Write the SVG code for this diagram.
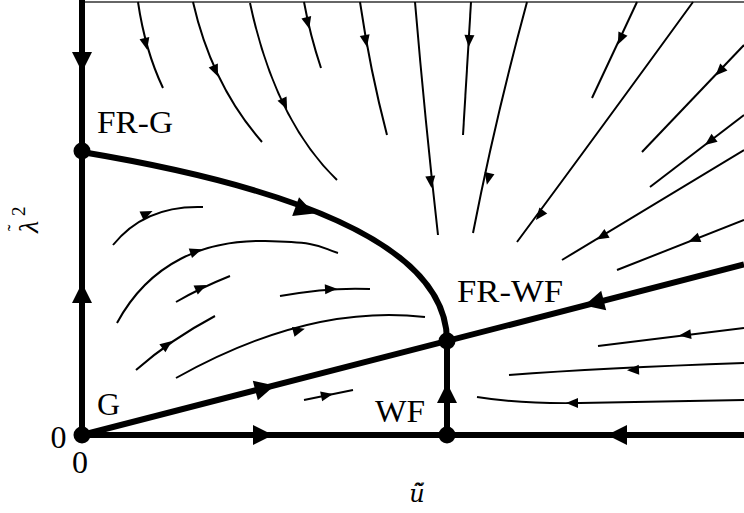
<svg xmlns="http://www.w3.org/2000/svg" xmlns:xlink="http://www.w3.org/1999/xlink" width="744" height="513" viewBox="0 0 744 513">
<style>
.heavy{fill:none;stroke:#000;stroke-width:6;stroke-linecap:butt}
.thin{fill:none;stroke:#000;stroke-width:2}
.lbl{font-family:"Liberation Serif","Times New Roman",serif;font-size:32px;fill:#000}
.it{font-family:"Liberation Serif","Times New Roman",serif;font-style:italic;fill:#000}
.dj{font-family:"DejaVu Serif",serif;font-style:italic;fill:#000}
.up{font-style:normal}
.dot{fill:#000}
</style>
<defs>
<path id="sa" d="M5,0 L-7,-5 L-7,5 Z" fill="#000"/>
<path id="ba" d="M10,0 L-10,-10 L-10,10 Z" fill="#000"/>
</defs>
<rect width="744" height="513" fill="#fff"/>
<line x1="82" y1="2" x2="744" y2="2" stroke="#333" stroke-width="1.5"/>
<g id="connectors">
<line class="heavy" x1="82" y1="0" x2="82" y2="435"/>
<line class="heavy" x1="82" y1="435" x2="744" y2="435"/>
<line class="heavy" x1="82" y1="435" x2="744" y2="264.5"/>
<line class="heavy" x1="447" y1="341" x2="447" y2="435"/>
<path class="heavy" d="M82,152 C310,190 447,250 447,341"/>
<use xlink:href="#ba" transform="translate(82,62) rotate(90)"/>
<use xlink:href="#ba" transform="translate(82,293) rotate(-90)"/>
<use xlink:href="#ba" transform="translate(263,435)"/>
<use xlink:href="#ba" transform="translate(617,435) rotate(180)"/>
<use xlink:href="#ba" transform="translate(265,388) rotate(-14.4)"/>
<use xlink:href="#ba" transform="translate(594,303) rotate(165.6)"/>
<use xlink:href="#ba" transform="translate(447,393) rotate(-90)"/>
<use xlink:href="#ba" transform="translate(305,210) rotate(20)"/>
<path class="thin" d="M138,2 Q145,50 163,88"/>
<use xlink:href="#sa" transform="translate(146,45) rotate(77)"/>
<path class="thin" d="M193,2 Q212,85 262,142"/>
<use xlink:href="#sa" transform="translate(216,72) rotate(67)"/>
<path class="thin" d="M250,3 Q275,120 337,180"/>
<use xlink:href="#sa" transform="translate(285,105) rotate(65)"/>
<path class="thin" d="M304,2 Q310,35 321,68"/>
<use xlink:href="#sa" transform="translate(308,24) rotate(76)"/>
<path class="thin" d="M360,2 Q370,70 387,135"/>
<use xlink:href="#sa" transform="translate(366,42) rotate(79)"/>
<path class="thin" d="M415,2 Q425,120 438,235"/>
<use xlink:href="#sa" transform="translate(431,183) rotate(84)"/>
<path class="thin" d="M471,2 L463,135"/>
<use xlink:href="#sa" transform="translate(469,42) rotate(93.4)"/>
<path class="thin" d="M527,2 Q495,120 473,233"/>
<use xlink:href="#sa" transform="translate(488,180) rotate(103)"/>
<path class="thin" d="M637,2 L592,98"/>
<use xlink:href="#sa" transform="translate(620,40) rotate(115)"/>
<path class="thin" d="M693,2 Q600,130 517,242"/>
<use xlink:href="#sa" transform="translate(539,216) rotate(128)"/>
<path class="thin" d="M744,45 L642,152"/>
<use xlink:href="#sa" transform="translate(719,72) rotate(133.6)"/>
<path class="thin" d="M744,115 L650,187"/>
<use xlink:href="#sa" transform="translate(709,142) rotate(142.5)"/>
<path class="thin" d="M744,150 L562,260"/>
<use xlink:href="#sa" transform="translate(601,237) rotate(148.9)"/>
<path class="thin" d="M744,220 L617,270"/>
<use xlink:href="#sa" transform="translate(693,240) rotate(158.5)"/>
<path class="thin" d="M113,245 Q145,205 203,207"/>
<use xlink:href="#sa" transform="translate(148,213) rotate(-25)"/>
<path class="thin" d="M117,323 C150,262 205,240 265,241 S320,248 338,253"/>
<use xlink:href="#sa" transform="translate(197,251) rotate(-19)"/>
<path class="thin" d="M176,302 Q200,288 230,276"/>
<use xlink:href="#sa" transform="translate(202,287) rotate(-25)"/>
<path class="thin" d="M136,370 Q170,340 215,316"/>
<use xlink:href="#sa" transform="translate(168,344) rotate(-37)"/>
<path class="thin" d="M176,378 C240,342 330,306 425,317"/>
<use xlink:href="#sa" transform="translate(300,330) rotate(-15)"/>
<path class="thin" d="M280,296 Q330,287 370,289"/>
<use xlink:href="#sa" transform="translate(332,289) rotate(-3)"/>
<path class="thin" d="M304,400 L353,390"/>
<use xlink:href="#sa" transform="translate(328,395) rotate(-11.5)"/>
<path class="thin" d="M744,328 L598,346"/>
<use xlink:href="#sa" transform="translate(684,335) rotate(173)"/>
<path class="thin" d="M744,363 Q600,368 509,375"/>
<use xlink:href="#sa" transform="translate(632,370) rotate(177)"/>
<path class="thin" d="M744,400 L580,403 Q520,404 477,397"/>
<use xlink:href="#sa" transform="translate(571,403) rotate(180)"/>
</g>
<g id="node-G">
<circle class="dot" cx="82" cy="435" r="8.5"/>
<text class="lbl" x="97" y="415">G</text>
</g>
<g id="node-FR-G">
<circle class="dot" cx="82" cy="151" r="8.5"/>
<text class="lbl" x="97" y="133" textLength="76" lengthAdjust="spacingAndGlyphs">FR-G</text>
</g>
<g id="node-WF">
<circle class="dot" cx="447" cy="435" r="8.5"/>
<text class="lbl" x="375" y="422" textLength="50" lengthAdjust="spacingAndGlyphs">WF</text>
</g>
<g id="node-FR-WF">
<circle class="dot" cx="447" cy="341" r="8.5"/>
<text class="lbl" x="457" y="302" textLength="106" lengthAdjust="spacingAndGlyphs">FR-WF</text>
</g>
<g id="axes-labels">
<text class="lbl" x="58.5" y="448" text-anchor="middle">0</text>
<text class="lbl" x="80" y="473" text-anchor="middle">0</text>
<text class="dj" x="417" y="502" font-size="24" text-anchor="middle">ũ̃</text>
<text class="it" transform="translate(38,233) rotate(-90)" x="0" y="0" font-size="28">λ<tspan class="up" font-size="20" dx="-10.3" dy="-16">˜</tspan><tspan class="up" font-size="19" dx="8.6" dy="3">2</tspan></text>
</g>
</svg>
